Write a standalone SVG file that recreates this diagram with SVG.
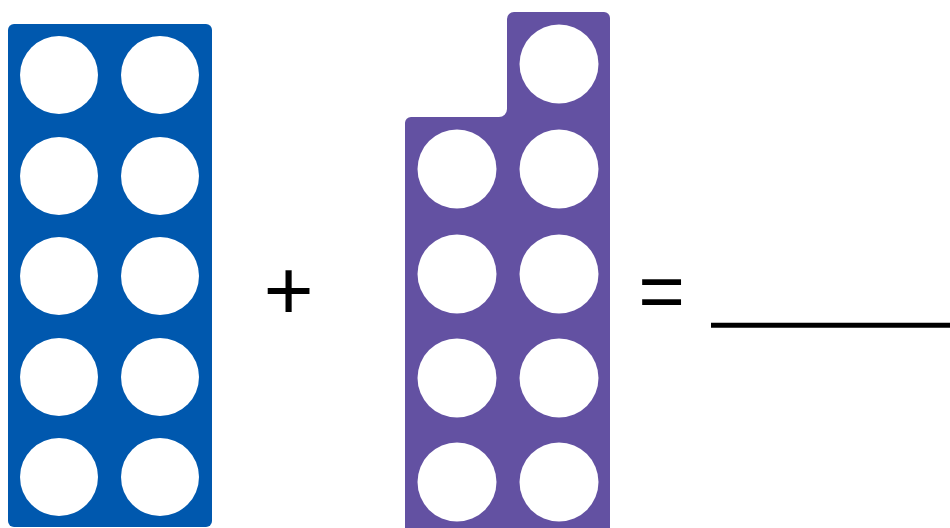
<svg xmlns="http://www.w3.org/2000/svg" width="950" height="528" viewBox="0 0 950 528">
<style>
.h{fill:#fff}
text{font-family:"Liberation Sans",Arial,sans-serif;fill:#000}
</style>
<rect width="950" height="528" fill="#fff"/>
<g id="blue-ten">
<rect x="8" y="24" width="204" height="503" rx="6" fill="#0058ae"/>
<circle class="h" cx="59" cy="75" r="39"/><circle class="h" cx="160" cy="75" r="39"/>
<circle class="h" cx="59" cy="176" r="39"/><circle class="h" cx="160" cy="176" r="39"/>
<circle class="h" cx="59" cy="276" r="39"/><circle class="h" cx="160" cy="276" r="39"/>
<circle class="h" cx="59" cy="377" r="39"/><circle class="h" cx="160" cy="377" r="39"/>
<circle class="h" cx="59" cy="477" r="39"/><circle class="h" cx="160" cy="477" r="39"/>
</g>
<g id="plus"><text x="288.5" y="320" font-size="86" text-anchor="middle">+</text></g>
<g id="purple-nine">
<path d="M514 12H604a6 6 0 0 1 6 6V528H405V123a6 6 0 0 1 6-6H499a8 8 0 0 0 8-8V19a7 7 0 0 1 7-7Z" fill="#6351a2"/>
<circle class="h" cx="559" cy="64" r="39.5"/>
<circle class="h" cx="457" cy="169" r="39.5"/><circle class="h" cx="559" cy="169" r="39.5"/>
<circle class="h" cx="457" cy="274" r="39.5"/><circle class="h" cx="559" cy="274" r="39.5"/>
<circle class="h" cx="457" cy="378" r="39.5"/><circle class="h" cx="559" cy="378" r="39.5"/>
<circle class="h" cx="457" cy="482" r="39.5"/><circle class="h" cx="559" cy="482" r="39.5"/>
</g>
<g id="equals"><text x="661.5" y="318" font-size="80" text-anchor="middle">=</text></g>
<g id="connectors"><line id="answer-line" x1="711" y1="325.3" x2="950" y2="325.3" stroke="#000" stroke-width="5"/></g>
</svg>
